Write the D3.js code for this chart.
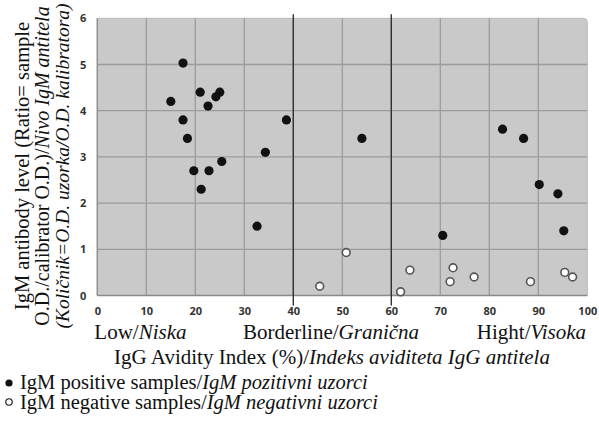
<!DOCTYPE html>
<html><head><meta charset="utf-8">
<script src="https://cdn.jsdelivr.net/npm/d3@7"></script>
<style>
body{margin:0;background:#fff;}
svg{display:block;}
text{font-family:"Liberation Serif","Times New Roman",serif;fill:#111;}
.tick text{font-family:"Open Sans","DejaVu Sans",sans-serif;font-weight:700;font-size:11px;fill:#333;}
</style></head>
<body>
<script>
// ---- data ----
const positiveX = [17.5, 15, 21, 25, 24.2, 22.6, 17.5, 18.4, 38.6, 34.3, 25.4, 19.7, 22.8, 21.2, 32.6, 54, 82.7, 87, 90.2, 94, 95.2, 70.5];
const positiveY = [5.03, 4.2, 4.4, 4.4, 4.3, 4.1, 3.8, 3.4, 3.8, 3.1, 2.9, 2.7, 2.7, 2.3, 1.5, 3.4, 3.6, 3.4, 2.4, 2.2, 1.4, 1.3];
const negativeX = [45.4, 50.8, 63.8, 61.9, 72.6, 72, 76.9, 88.4, 95.4, 97];
const negativeY = [0.2, 0.93, 0.55, 0.08, 0.6, 0.3, 0.4, 0.3, 0.5, 0.4];
const xTicks = [0, 10, 20, 30, 40, 50, 60, 70, 80, 90, 100];
const yTicks = [0, 1, 2, 3, 4, 5, 6];
const cutoffs = [40, 60];
const zoneLabels = ["Low/", "Borderline/", "Hight/"];
const zoneLabelsIt = ["Niska", "Granična", "Visoka"];
const zoneCenters = [8.8, 47.7, 88.6];

const W = 599, H = 423;
const svg = d3.select("body").append("svg").attr("width", W).attr("height", H);

const x = d3.scaleLinear().domain([0, 100]).range([97.3, 587.3]);
const y = d3.scaleLinear().domain([0, 6]).range([295.5, 18.3]);

// plot background
svg.append("path")
  .attr("d", () => {
    const x0 = x(0), x1 = x(100), y0 = y(6), y1 = y(0), r = 4;
    return `M${x0},${y0} H${x1 - r} Q${x1},${y0} ${x1},${y0 + r} V${y1} H${x0} Z`;
  })
  .attr("fill", "#c9c9c9").attr("stroke", "#b9b9b9").attr("stroke-width", 1);

// grid lines
const grid = svg.append("g").attr("stroke", "#9b9b9b").attr("stroke-width", 1.3);
grid.selectAll("line.v").data(xTicks.slice(1, -1)).join("line")
  .attr("x1", d => x(d)).attr("x2", d => x(d)).attr("y1", y(6)).attr("y2", y(0));
grid.selectAll("line.h").data(yTicks.slice(1, -1)).join("line")
  .attr("x1", x(0)).attr("x2", x(100)).attr("y1", d => y(d)).attr("y2", d => y(d));

// axes lines (left and bottom)
svg.append("line").attr("x1", x(0)).attr("x2", x(0)).attr("y1", y(6)).attr("y2", y(0))
  .attr("stroke", "#8a8a8a").attr("stroke-width", 1.3);
svg.append("line").attr("x1", x(0)).attr("x2", x(100)).attr("y1", y(0)).attr("y2", y(0))
  .attr("stroke", "#8a8a8a").attr("stroke-width", 1.3);

// tick labels via d3 axes
const xAxis = svg.append("g").attr("transform", `translate(0,${y(0)})`)
  .call(d3.axisBottom(x).tickValues(xTicks).tickFormat(d3.format("d")).tickSize(0).tickPadding(12));
xAxis.select(".domain").remove();
const yAxis = svg.append("g").attr("transform", `translate(${x(0)},0)`)
  .call(d3.axisLeft(y).tickValues(yTicks).tickFormat(d3.format("d")).tickSize(0).tickPadding(11));
yAxis.select(".domain").remove();

// cutoff lines
svg.selectAll("line.cut").data(cutoffs).join("line")
  .attr("x1", d => x(d)).attr("x2", d => x(d))
  .attr("y1", y(6) - 4).attr("y2", y(0) + 10)
  .attr("stroke", "#333").attr("stroke-width", 1.4);

// points
const pos = positiveX.map((v, i) => [v, positiveY[i]]);
const neg = negativeX.map((v, i) => [v, negativeY[i]]);
svg.selectAll("circle.pos").data(pos).join("circle")
  .attr("cx", d => x(d[0])).attr("cy", d => y(d[1])).attr("r", 4.6)
  .attr("fill", "#111");
svg.selectAll("circle.neg").data(neg).join("circle")
  .attr("cx", d => x(d[0])).attr("cy", d => y(d[1])).attr("r", 3.9)
  .attr("fill", "#fff").attr("stroke", "#555").attr("stroke-width", 1.6);

// zone labels
const zl = svg.selectAll("text.zone").data(zoneLabels).join("text")
  .attr("x", (d, i) => x(zoneCenters[i])).attr("y", 339)
  .attr("text-anchor", "middle").style("font-size", "21px");
zl.append("tspan").text(d => d);
zl.append("tspan").style("font-style", "italic").text((d, i) => zoneLabelsIt[i]);

// x axis title
const xt = svg.append("text").attr("x", 332).attr("y", 364)
  .attr("text-anchor", "middle").style("font-size", "21px");
xt.append("tspan").text("IgG Avidity Index (%)/");
xt.append("tspan").style("font-style", "italic").text("Indeks aviditeta IgG antitela");

// y axis title (3 lines)
const yt = svg.append("g").attr("transform", "translate(0,166) rotate(-90)");
const l1 = yt.append("text").attr("x", 0).attr("y", 29).attr("text-anchor", "middle").style("font-size", "20.5px");
l1.append("tspan").text("IgM antibody level (Ratio= sample");
const l2 = yt.append("text").attr("x", 0).attr("y", 49).attr("text-anchor", "middle").style("font-size", "20px");
l2.append("tspan").text("O.D./calibrator O.D.)/");
l2.append("tspan").style("font-style", "italic").text("Nivo IgM antitela");
const l3 = yt.append("text").attr("x", 0).attr("y", 69).attr("text-anchor", "middle").style("font-size", "19.5px")
  .style("font-style", "italic");
l3.append("tspan").text("(Količnik=O.D. uzorka/O.D. kalibratora)");

// legend
const legend = svg.append("g");
legend.append("circle").attr("cx", 9).attr("cy", 383).attr("r", 3.6).attr("fill", "#111");
legend.append("circle").attr("cx", 9).attr("cy", 402).attr("r", 3.2).attr("fill", "#fff")
  .attr("stroke", "#111").attr("stroke-width", 1.1);
const lg1 = legend.append("text").attr("x", 20).attr("y", 389).style("font-size", "20.5px");
lg1.append("tspan").text("IgM positive samples/");
lg1.append("tspan").style("font-style", "italic").text("IgM pozitivni uzorci");
const lg2 = legend.append("text").attr("x", 20).attr("y", 409).style("font-size", "20.5px");
lg2.append("tspan").text("IgM negative samples/");
lg2.append("tspan").style("font-style", "italic").text("IgM negativni uzorci");
</script>
</body></html>
